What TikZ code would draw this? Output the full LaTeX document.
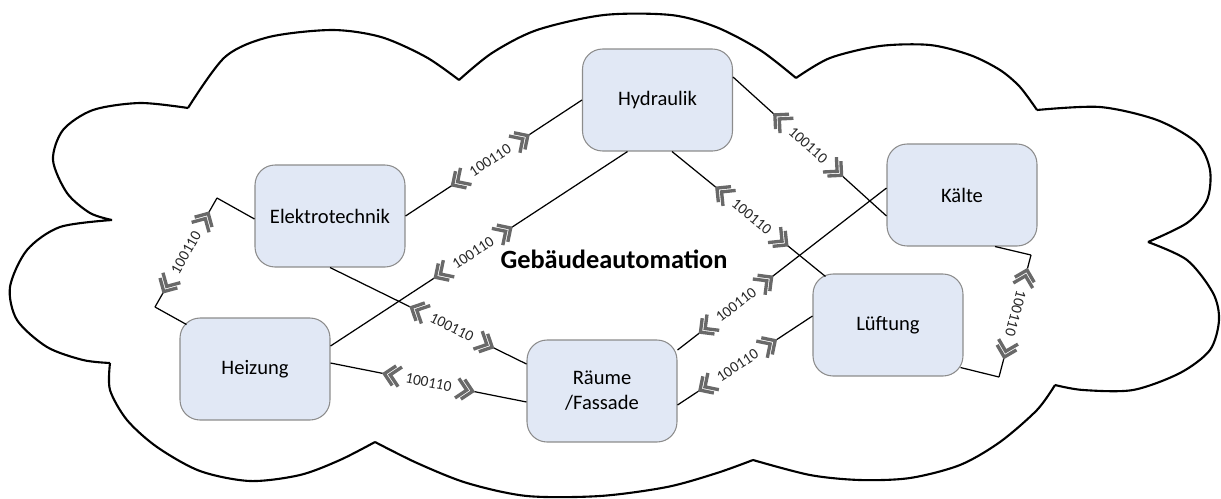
\documentclass[tikz,border=0pt]{standalone}
\usepackage{fontspec}
\setmainfont{Carlito}
\usetikzlibrary{calc}
\definecolor{boxfill}{RGB}{225,232,245}
\definecolor{boxline}{RGB}{140,140,140}
\definecolor{chevc}{RGB}{105,105,105}
\tikzset{
  box/.style={draw=boxline, line width=0.6pt, fill=boxfill, rounded corners=0.4cm,
    minimum width=3cm, minimum height=2.04cm, align=center,
    font=\fontsize{11.7}{14.2}\selectfont, inner sep=0pt},
  conn/.style={draw=black, line width=0.7pt},
  cloudline/.style={draw=black, line width=1.2pt, line join=round},
  chev/.style={draw=chevc, line width=1.9pt, line join=miter},
  lbltext/.style={font=\fontsize{8.7}{10}\selectfont, text=black!85, inner sep=0pt, transform shape},
  dlabel/.pic={
    \draw[chev] (-35,10) -- (-45,0) -- (-35,-10);
    \draw[chev] (-29,10) -- (-39,0) -- (-29,-10);
    \draw[chev] (35,10) -- (45,0) -- (35,-10);
    \draw[chev] (29,10) -- (39,0) -- (29,-10);
    \node[lbltext] at (0,0) {100110};
  },
}
\newcommand\dlink[4][]{%
  \coordinate (tmpM) at ($(#2)!#4!(#3)$);
  \draw[conn] (#2) -- ($(tmpM)!0.9cm!(#2)$);
  \draw[conn] ($(tmpM)!0.9cm!(#3)$) -- (#3);
  \path (#2) -- (#3) pic[pos=#4, sloped, #1] {dlabel};
}
\begin{document}
\begin{tikzpicture}[x=0.02cm, y=-0.02cm]
\useasboundingbox (0,0) rectangle (1221,498);
% cloud
\draw[cloudline]
  plot[smooth] coordinates {(188,108) (225,57) (269,37) (332,30) (381,37) (426,57) (459,80)}
  plot[smooth] coordinates {(459,80) (492,53) (537,30) (604,15) (671,15) (716,27) (760,50) (796,78)}
  plot[smooth] coordinates {(796,78) (830,58) (880,46) (930,45) (970,55) (1000,70) (1020,87) (1037,110)}
  plot[smooth] coordinates {(1037,110) (1100,107) (1157,120) (1197,143) (1210,170) (1207,200) (1187,223) (1148,242)}
  plot[smooth] coordinates {(1148,242) (1187,260) (1213,293) (1219,320) (1210,350) (1180,373) (1133,390) (1083,390) (1055,385)}
  plot[smooth] coordinates {(1055,385) (1037,410) (1000,442) (960,465) (910,478) (860,480) (810,475) (753,460)}
  plot[smooth] coordinates {(753,460) (717,473) (667,487) (600,496) (527,496) (467,483) (417,463) (375,442)}
  plot[smooth] coordinates {(375,442) (340,460) (300,475) (250,481) (200,471) (157,447) (127,420) (110,390) (110,363)}
  plot[smooth] coordinates {(110,363) (83,360) (47,347) (17,320) (10,287) (27,250) (60,227) (112,220)}
  plot[smooth] coordinates {(112,220) (90,213) (67,193) (53,160) (63,130) (93,110) (140,103) (188,108)};
% boxes
\node[box] (hyd) at (657.5,100) {Hydraulik};
\node[box] (elek) at (330,216) {Elektrotechnik};
\node[box] (heiz) at (255,369) {Heizung};
\node[box] (raum) at (602,391) {Räume\\/Fassade};
\node[box] (lft) at (888,325) {Lüftung};
\node[box] (kae) at (962,195) {Kälte};
\node[font=\bfseries\fontsize{15}{18}\selectfont] (title) at (614,259) {Gebäudeautomation};
% connector ends
\coordinate (a1) at (elek.east);
\coordinate (b1) at (hyd.west);
\coordinate (a2) at ([yshift=0.46cm]heiz.east);
\coordinate (b2) at ([xshift=-0.6cm]hyd.south);
\coordinate (a3) at (elek.south);
\coordinate (b3) at ([yshift=0.54cm]raum.west);
\coordinate (a4) at ([yshift=0.12cm]heiz.east);
\coordinate (b4) at ([yshift=-0.22cm]raum.west);
\coordinate (a5) at ([yshift=0.46cm]hyd.east);
\coordinate (b5) at ([yshift=-0.42cm]kae.west);
\coordinate (a6) at ([xshift=0.29cm]hyd.south);
\coordinate (b6) at ([xshift=0.26cm,yshift=-0.06cm]lft.north west);
\coordinate (a7) at ([yshift=0.82cm]raum.east);
\coordinate (b7) at ([yshift=0.14cm]kae.west);
\coordinate (a8) at ([yshift=-0.28cm]raum.east);
\coordinate (b8) at ([yshift=0.18cm]lft.west);
\coordinate (e1) at ([xshift=0.14cm,yshift=-0.14cm]heiz.north west);
\coordinate (k1) at (155,307);
\coordinate (k2) at (217,198);
\coordinate (e2) at ([yshift=-0.06cm]elek.west);
\coordinate (e3) at ([xshift=0.66cm]kae.south);
\coordinate (k3) at (1031,255);
\coordinate (k4) at (999,377);
\coordinate (e4) at ([xshift=-0.06cm,yshift=0.18cm]lft.south east);
% connectors
\dlink{a1}{b1}{0.48}
\dlink{a2}{b2}{0.48}
\dlink{a3}{b3}{0.62}
\dlink{a4}{b4}{0.5}
\dlink{a5}{b5}{0.49}
\dlink{a6}{b6}{0.52}
\dlink{a7}{b7}{0.28}
\dlink{a8}{b8}{0.445}
\draw[conn] (e1) -- (k1);
\dlink{k1}{k2}{0.5}
\draw[conn] (k2) -- (e2);
\draw[conn] (e3) -- (k3);
\dlink[allow upside down]{k3}{k4}{0.48}
\draw[conn] (k4) -- (e4);
\end{tikzpicture}
\end{document}
